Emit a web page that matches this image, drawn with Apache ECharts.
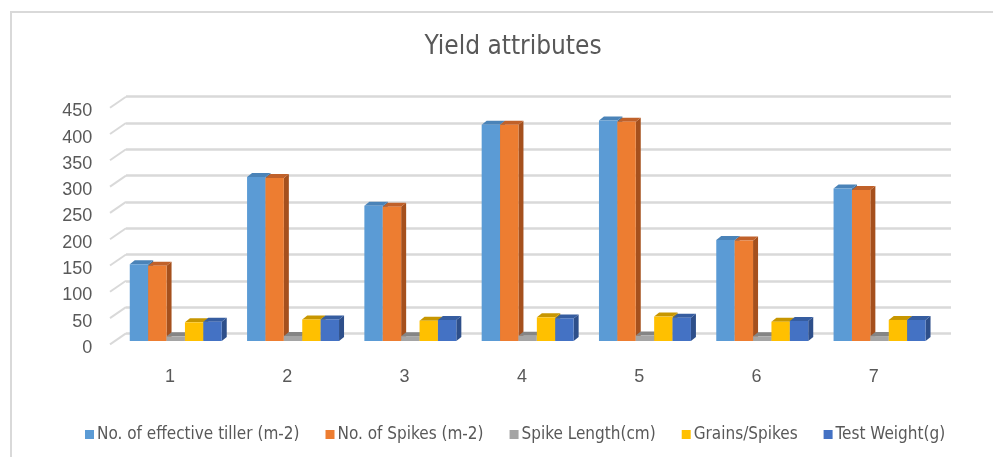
<!DOCTYPE html>
<html>
<head>
<meta charset="utf-8">
<script src="https://cdn.jsdelivr.net/npm/echarts@6/dist/echarts.min.js"></script>
<style>html,body{margin:0;padding:0;background:#fff;}#c{width:993px;height:457px;}</style>
</head>
<body>
<div id="c"></div>
<script>
const categories = ['1', '2', '3', '4', '5', '6', '7'];
const effectiveTiller = [146, 312, 257, 411, 419, 192, 290];
const spikesPerM2 = [143, 310, 255, 411, 417, 191, 287];
const spikeLength = [8.9, 9.6, 9.2, 10.1, 10.3, 9.0, 9.4];
const grainsPerSpike = [35.5, 41, 38.6, 45, 46.4, 36.7, 40];
const testWeight = [36.7, 41, 40, 43, 44.3, 38, 40];
const yTicks = [0, 50, 100, 150, 200, 250, 300, 350, 400, 450];

const seriesDefs = [
  { name: 'No. of effective tiller (m-2)', data: effectiveTiller, front: '#5B9BD5', side: '#41719C', top: '#4A83B8' },
  { name: 'No. of Spikes (m-2)', data: spikesPerM2, front: '#ED7D31', side: '#A5501D', top: '#C0612A' },
  { name: 'Spike Length(cm)', data: spikeLength, front: '#A5A5A5', side: '#7A7A7A', top: '#858585' },
  { name: 'Grains/Spikes', data: grainsPerSpike, front: '#FFC000', side: '#B38900', top: '#C79600' },
  { name: 'Test Weight(g)', data: testWeight, front: '#4472C4', side: '#2E4F8A', top: '#365DA0' }
];

const DX = 5, DY = -4;
const nS = seriesDefs.length;

function makeRender(si, def) {
  return function (params, api) {
    const ci = api.value(0);
    const v = api.value(1);
    const band = api.size([1, 0])[0];
    const barW = band * 0.784 / nS;
    const base = api.coord([ci, 0]);
    const top = api.coord([ci, v]);
    const x0 = base[0] - band * 0.392 + si * barW;
    const x1 = x0 + barW;
    const yb = base[1];
    const yt = top[1];
    return {
      type: 'group',
      children: [
        { type: 'polygon', shape: { points: [[x1, yb], [x1 + DX, yb + DY], [x1 + DX, yt + DY], [x1, yt]] }, style: { fill: def.side } },
        { type: 'polygon', shape: { points: [[x0, yt], [x1, yt], [x1 + DX, yt + DY], [x0 + DX, yt + DY]] }, style: { fill: def.top } },
        { type: 'rect', shape: { x: x0, y: yt, width: barW, height: yb - yt }, style: { fill: def.front } }
      ]
    };
  };
}

const textColor = '#595959';
const narrow = '"Liberation Sans Narrow", "DejaVu Sans Condensed", "Liberation Sans", sans-serif';

const series = seriesDefs.map((def, si) => ({
  type: 'custom',
  name: def.name,
  xAxisIndex: 2,
  yAxisIndex: 2,
  itemStyle: { color: def.front },
  renderItem: makeRender(si, def),
  encode: { x: 0, y: 1 },
  data: def.data.map((v, i) => [i, v]),
  z: 3
}));

series.push({
  type: 'custom',
  name: 'stubs',
  xAxisIndex: 1,
  yAxisIndex: 1,
  silent: true,
  renderItem: function (params, api) {
    const p = api.coord([0, api.value(1)]);
    return { type: 'line', shape: { x1: p[0] - 16, y1: p[1] + 11, x2: p[0], y2: p[1] }, style: { stroke: '#d9d9d9', lineWidth: 2 } };
  },
  data: yTicks.map(v => [0, v]),
  z: 1
});

const chart = echarts.init(document.getElementById('c'));
chart.setOption({
  backgroundColor: '#ffffff',
  animation: false,
  title: {
    text: 'Yield attributes',
    left: 508, top: 29, textAlign: 'center',
    textStyle: { fontFamily: narrow, fontSize: 26, fontWeight: 'normal', color: textColor }
  },
  graphic: [
    { type: 'rect', shape: { x: 11, y: 12, width: 1100, height: 600 }, style: { fill: 'none', stroke: '#d9d9d9', lineWidth: 2 }, z: -1 }
  ],
  legend: {
    data: seriesDefs.map(d => d.name),
    left: 80, top: 421,
    icon: 'rect', itemWidth: 9, itemHeight: 9, itemGap: 26,
    textStyle: { fontFamily: narrow, fontSize: 17, color: textColor, padding: [0, 0, 0, -2] }
  },
  grid: [
    { left: 111.35, width: 821.1, top: 111.3, height: 236.7 },
    { left: 126, right: 42, top: 96.7, height: 236.7 },
    { left: 117.1, width: 821.1, top: 104.3, height: 236.7 }
  ],
  xAxis: [
    { gridIndex: 0, type: 'category', data: categories, axisLine: { show: false }, axisTick: { show: false },
      axisLabel: { color: textColor, fontSize: 18, fontFamily: 'Liberation Sans, sans-serif', margin: 20 } },
    { gridIndex: 1, type: 'value', min: 0, max: 1, show: false },
    { gridIndex: 2, type: 'category', data: categories, show: false }
  ],
  yAxis: [
    { gridIndex: 0, type: 'value', min: 0, max: 450, interval: 50, splitLine: { show: false }, axisLine: { show: false }, axisTick: { show: false },
      axisLabel: { color: textColor, fontSize: 18, fontFamily: 'Liberation Sans, sans-serif', margin: 19 } },
    { gridIndex: 1, type: 'value', min: 0, max: 450, interval: 50, axisLabel: { show: false }, axisLine: { show: false }, axisTick: { show: false },
      splitLine: { show: true, lineStyle: { color: '#d9d9d9', width: 2.5 } } },
    { gridIndex: 2, type: 'value', min: 0, max: 450, show: false }
  ],
  series: series
});
</script>
</body>
</html>
